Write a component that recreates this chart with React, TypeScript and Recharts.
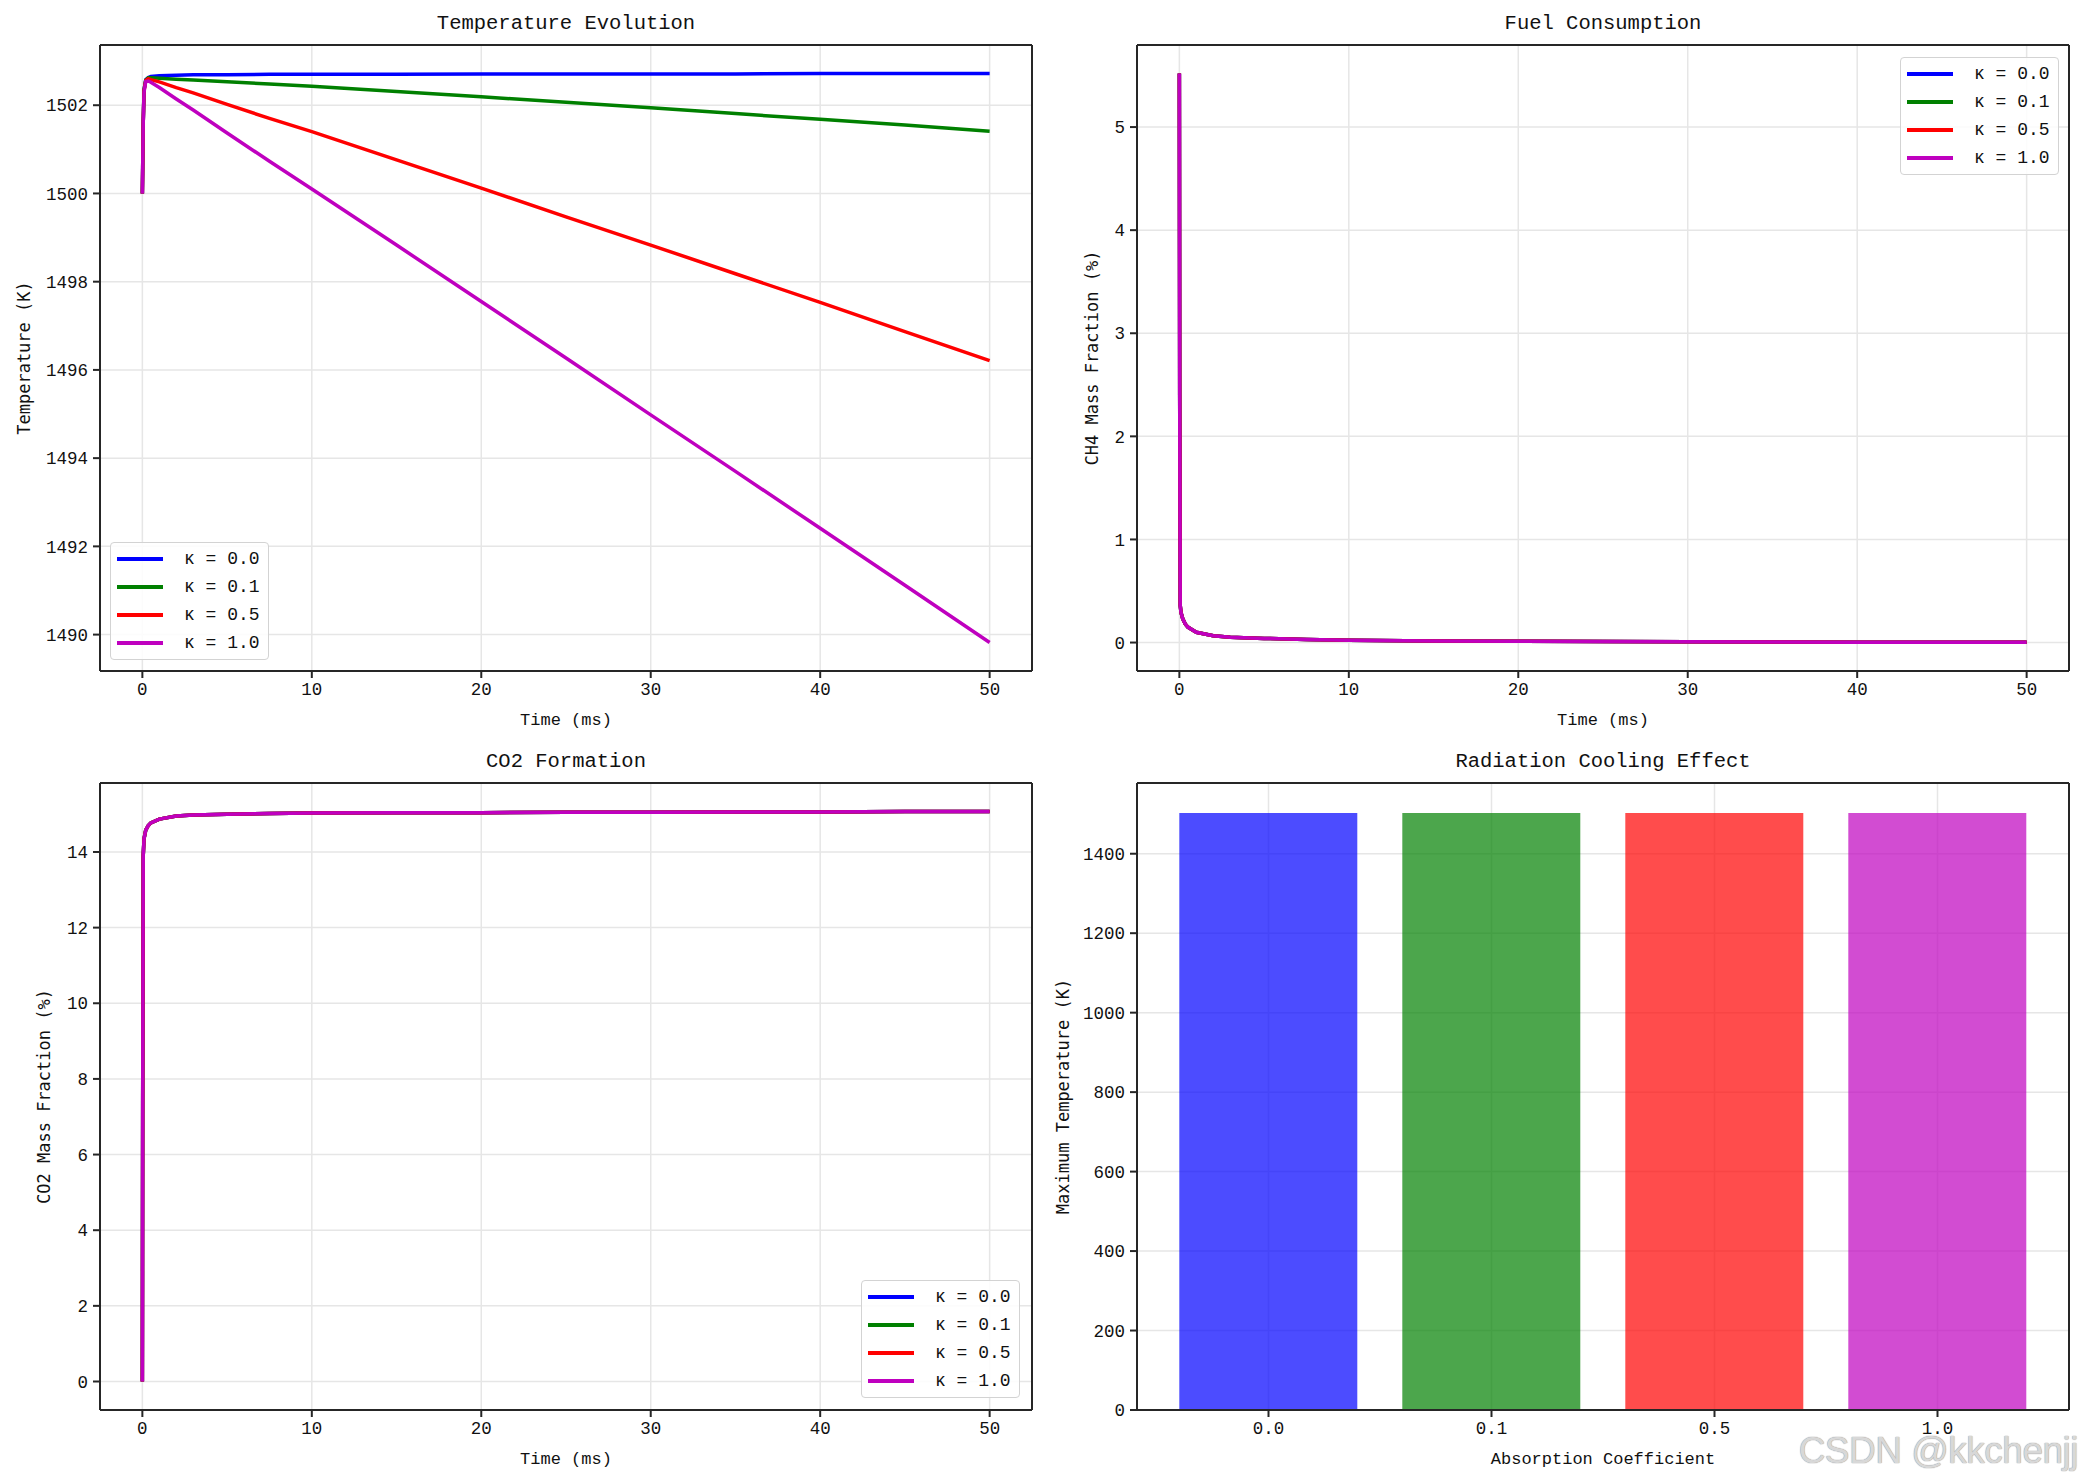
import React from "react";
import {
  Bar,
  BarChart,
  CartesianGrid,
  Cell,
  Label,
  Legend,
  Line,
  LineChart,
  XAxis,
  YAxis,
} from "recharts";

// time axis shared by the three line panels (ms)
const timeMs = [0, 0.02, 0.05, 0.1, 0.2, 0.35, 0.5, 1, 2, 3, 5, 7.5, 10, 15, 20, 25, 30, 35, 40, 45, 50];

// temperature (K) for each absorption coefficient
const tempK00 = [1500, 1500.6, 1501.6, 1502.35, 1502.58, 1502.63, 1502.65, 1502.67, 1502.68, 1502.69, 1502.69, 1502.7, 1502.7, 1502.7, 1502.71, 1502.71, 1502.71, 1502.71, 1502.72, 1502.72, 1502.72];
const tempK01 = [1500, 1500.6, 1501.6, 1502.35, 1502.57, 1502.62, 1502.62, 1502.61, 1502.59, 1502.57, 1502.53, 1502.48, 1502.43, 1502.31, 1502.19, 1502.07, 1501.94, 1501.81, 1501.68, 1501.55, 1501.41];
const tempK05 = [1500, 1500.6, 1501.6, 1502.33, 1502.56, 1502.6, 1502.58, 1502.53, 1502.4, 1502.28, 1502.02, 1501.7, 1501.4, 1500.76, 1500.12, 1499.47, 1498.83, 1498.18, 1497.53, 1496.87, 1496.21];
const tempK10 = [1500, 1500.6, 1501.58, 1502.3, 1502.54, 1502.55, 1502.52, 1502.4, 1502.14, 1501.89, 1501.37, 1500.73, 1500.1, 1498.83, 1497.55, 1496.27, 1494.98, 1493.7, 1492.41, 1491.12, 1489.82];

// species mass fractions (%), the four kappa curves lie on top of each other
const ch4Pct = [5.52, 2.4, 0.36, 0.29, 0.23, 0.18, 0.15, 0.1, 0.066, 0.052, 0.04, 0.03, 0.022, 0.016, 0.012, 0.009, 0.007, 0.005, 0.004, 0.003, 0.003];
const co2Pct = [0, 7.5, 13.9, 14.35, 14.58, 14.7, 14.77, 14.87, 14.95, 14.98, 15.0, 15.02, 15.03, 15.04, 15.04, 15.05, 15.05, 15.06, 15.06, 15.07, 15.07];

const kappaLabels = ["0.0", "0.1", "0.5", "1.0"];
const kappaKeys = ["k00", "k01", "k05", "k10"];
const kappaColors = ["#0000ff", "#008000", "#ff0000", "#bf00bf"];
const maxTempK = [1502.72, 1502.62, 1502.6, 1502.55];

const timeTicks = [0, 10, 20, 30, 40, 50];
const tempTicks = [1490, 1492, 1494, 1496, 1498, 1500, 1502];
const ch4Ticks = [0, 1, 2, 3, 4, 5];
const co2Ticks = [0, 2, 4, 6, 8, 10, 12, 14];
const barTicks = [0, 200, 400, 600, 800, 1000, 1200, 1400];

const MONO = "'Liberation Mono', 'DejaVu Sans Mono', monospace";
const WIDE = "'DejaVu Sans Mono', monospace";
const INK = "#262626";
const GRID = "#e6e6e6";

const tempRows = timeMs.map((t, i) => ({ t, k00: tempK00[i], k01: tempK01[i], k05: tempK05[i], k10: tempK10[i] }));
const ch4Rows = timeMs.map((t, i) => ({ t, k00: ch4Pct[i], k01: ch4Pct[i], k05: ch4Pct[i], k10: ch4Pct[i] }));
const co2Rows = timeMs.map((t, i) => ({ t, k00: co2Pct[i], k01: co2Pct[i], k05: co2Pct[i], k10: co2Pct[i] }));
const barRows = kappaLabels.map((k, i) => ({ k, v: maxTempK[i] }));

const tickStyle = { fill: "#111", fontSize: 17.5, fontFamily: MONO };

function renderLegend(props: any) {
  const { payload } = props;
  return (
    <div
      style={{
        border: "1.5px solid #d3d3d3",
        borderRadius: 4,
        background: "rgba(255,255,255,0.85)",
        padding: "2px 6px",
        width: 159,
        boxSizing: "border-box",
      }}
    >
      {payload.map((p: any) => (
        <div key={p.value} style={{ display: "flex", alignItems: "center", height: 28 }}>
          <span style={{ display: "inline-block", width: 46, height: 3.5, background: p.color, marginRight: 21 }} />
          <span style={{ fontFamily: MONO, fontSize: 18, color: "#111", whiteSpace: "pre" }}>{p.value}</span>
        </div>
      ))}
    </div>
  );
}

function yLabel(text: string, x: number) {
  return (props: any) => {
    const vb = props.viewBox;
    const cy = vb.y + vb.height / 2;
    return (
      <text
        x={x}
        y={cy}
        transform={`rotate(-90, ${x}, ${cy})`}
        textAnchor="middle"
        dominantBaseline="central"
        fontFamily={WIDE}
        fontSize={17}
        fill="#111"
      >
        {text}
      </text>
    );
  };
}

type Box = { left: number; right: number; top: number; bottom: number };

function Title({ text, box }: { text: string; box: Box }) {
  return (
    <div
      style={{
        position: "absolute",
        left: box.left,
        width: box.right - box.left,
        top: box.top - 34,
        height: 26,
        lineHeight: "26px",
        textAlign: "center",
        fontFamily: MONO,
        fontSize: 20.5,
        color: "#111",
      }}
    >
      {text}
    </div>
  );
}

const W = 1042;
const H = 742;

// the top x axis and right y axis only close the frame; they need 1px of room to be drawn
function FramedLinePanel(props: {
  x: number;
  y: number;
  box: Box;
  title: string;
  yText: string;
  yTextX: number;
  xOffset: number;
  rows: any[];
  yDomain: [number, number];
  yTicks: number[];
  legendAt: { left: number; top: number };
}) {
  const { box } = props;
  return (
    <div style={{ position: "absolute", left: props.x, top: props.y, width: W, height: H }}>
      <Title text={props.title} box={box} />
      <LineChart
        width={W}
        height={H}
        data={props.rows}
        margin={{ top: box.top - 1, right: W - box.right - 1, left: 0, bottom: 0 }}
      >
        <CartesianGrid stroke={GRID} strokeWidth={1.5} />
        <XAxis
          dataKey="t"
          type="number"
          domain={[-2.5, 52.5]}
          ticks={timeTicks}
          height={H - box.bottom}
          stroke={INK}
          strokeWidth={2}
          tickSize={7}
          tickMargin={5}
          tick={tickStyle}
        >
          <Label value="Time (ms)" position="insideBottom" offset={props.xOffset} style={{ fontFamily: MONO, fontSize: 17, fill: "#111" }} />
        </XAxis>
        <XAxis xAxisId="top" orientation="top" dataKey="t" type="number" domain={[-2.5, 52.5]} height={1} tick={false} tickLine={false} stroke={INK} strokeWidth={2} />
        <YAxis
          type="number"
          domain={props.yDomain}
          ticks={props.yTicks}
          width={box.left}
          stroke={INK}
          strokeWidth={2}
          tickSize={7}
          tickMargin={5}
          tick={tickStyle}
        >
          <Label content={yLabel(props.yText, props.yTextX)} />
        </YAxis>
        <YAxis yAxisId="right" orientation="right" width={1} tick={false} tickLine={false} stroke={INK} strokeWidth={2} />
        {kappaKeys.map((k, i) => (
          <Line
            key={k}
            dataKey={k}
            name={`κ = ${kappaLabels[i]}`}
            type="linear"
            stroke={kappaColors[i]}
            strokeWidth={3.5}
            dot={false}
            isAnimationActive={false}
          />
        ))}
        <Legend
          layout="vertical"
          align="center"
          verticalAlign="middle"
          content={renderLegend}
          wrapperStyle={{ left: props.legendAt.left, top: props.legendAt.top, width: 159 }}
        />
      </LineChart>
    </div>
  );
}

function BarPanel({ x, y, box }: { x: number; y: number; box: Box }) {
  return (
    <div style={{ position: "absolute", left: x, top: y, width: W, height: H }}>
      <Title text="Radiation Cooling Effect" box={box} />
      <BarChart
        width={W}
        height={H}
        data={barRows}
        barCategoryGap="10%"
        margin={{ top: box.top - 1, right: W - box.right - 1, left: 0, bottom: 0 }}
      >
        <CartesianGrid stroke={GRID} strokeWidth={1.5} />
        <XAxis
          dataKey="k"
          padding={{ left: 20, right: 20 }}
          height={H - box.bottom}
          stroke={INK}
          strokeWidth={2}
          tickSize={7}
          tickMargin={5}
          tick={tickStyle}
        >
          <Label value="Absorption Coefficient" position="insideBottom" offset={20} style={{ fontFamily: MONO, fontSize: 17, fill: "#111" }} />
        </XAxis>
        <XAxis xAxisId="top" orientation="top" dataKey="k" height={1} tick={false} tickLine={false} stroke={INK} strokeWidth={2} />
        <YAxis
          type="number"
          domain={[0, 1578]}
          ticks={barTicks}
          width={box.left}
          stroke={INK}
          strokeWidth={2}
          tickSize={7}
          tickMargin={5}
          tick={tickStyle}
        >
          <Label content={yLabel("Maximum Temperature (K)", 21)} />
        </YAxis>
        <YAxis yAxisId="right" orientation="right" width={1} tick={false} tickLine={false} stroke={INK} strokeWidth={2} />
        <Bar dataKey="v" fillOpacity={0.7} isAnimationActive={false}>
          {barRows.map((r, i) => (
            <Cell key={r.k} fill={kappaColors[i]} />
          ))}
        </Bar>
      </BarChart>
    </div>
  );
}

export default function App() {
  return (
    <div style={{ position: "absolute", left: 0, top: 0, width: 2084, height: 1484, background: "#fff", overflow: "hidden" }}>
      <FramedLinePanel
        x={0}
        y={0}
        box={{ left: 100, right: 1032, top: 45, bottom: 671 }}
        title="Temperature Evolution"
        yText="Temperature (K)"
        yTextX={24}
        xOffset={17}
        rows={tempRows}
        yDomain={[1489.175, 1503.365]}
        yTicks={tempTicks}
        legendAt={{ left: 110, top: 542 }}
      />
      <FramedLinePanel
        x={1042}
        y={0}
        box={{ left: 95, right: 1027, top: 45, bottom: 671 }}
        title="Fuel Consumption"
        yText="CH4 Mass Fraction (%)"
        yTextX={50}
        xOffset={17}
        rows={ch4Rows}
        yDomain={[-0.276, 5.796]}
        yTicks={ch4Ticks}
        legendAt={{ left: 858, top: 57 }}
      />
      <FramedLinePanel
        x={0}
        y={742}
        box={{ left: 100, right: 1032, top: 41, bottom: 668 }}
        title="CO2 Formation"
        yText="CO2 Mass Fraction (%)"
        yTextX={44}
        xOffset={20}
        rows={co2Rows}
        yDomain={[-0.7535, 15.8235]}
        yTicks={co2Ticks}
        legendAt={{ left: 861, top: 538 }}
      />
      <BarPanel x={1042} y={742} box={{ left: 95, right: 1027, top: 41, bottom: 668 }} />
      <div
        style={{
          position: "absolute",
          right: 6,
          bottom: 12,
          fontFamily: "'Liberation Sans', sans-serif",
          fontSize: 37,
          color: "rgba(225,225,225,0.9)",
          textShadow: "0 0 1px #999, 0 0 1px #999",
          letterSpacing: -0.5,
        }}
      >
        CSDN @kkchenjj
      </div>
    </div>
  );
}
